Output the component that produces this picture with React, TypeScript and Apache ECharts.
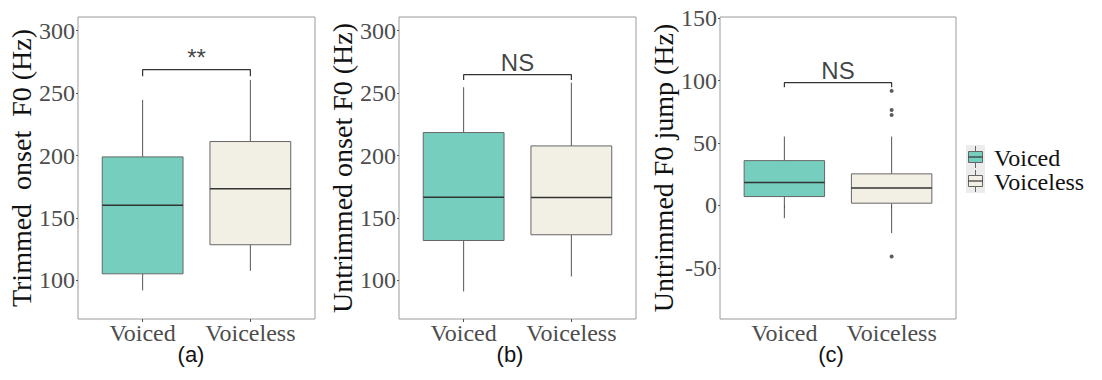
import React, { useEffect, useRef } from 'react';
import * as echarts from 'echarts';

// ---------- data ----------
const categories = ['Voiced', 'Voiceless'];
// each box: [lower whisker, Q1, median, Q3, upper whisker]
const trimmedOnsetVoiced = [91.9, 105.2, 160.2, 198.9, 244.6];
const trimmedOnsetVoiceless = [107.6, 128.5, 173.3, 211.2, 260.6];
const untrimmedOnsetVoiced = [91.1, 131.9, 166.6, 218.4, 254.7];
const untrimmedOnsetVoiceless = [103.1, 136.5, 166.3, 207.7, 258.4];
const jumpVoiced = [-10.2, 7.1, 18.3, 35.9, 55.2];
const jumpVoiceless = [-22.2, 1.8, 13.9, 25.3, 55.2];
const jumpVoicelessOutliers = [91.8, 76.5, 72.5, -40.9];

const onsetTicks = [100, 150, 200, 250, 300];
const jumpTicks = [-50, 0, 50, 100, 150];
const onsetRange = [69, 311];
const jumpRange = [-91, 151];

// significance brackets: [top, tick end]
const bracketA = [268.8, 263.5];
const bracketB = [264.8, 260.6];
const bracketC = [98.4, 94.7];
const significance = ['**', 'NS', 'NS'];

const yTitles = ['Trimmed  onset  F0 (Hz)', 'Untrimmed onset F0 (Hz)', 'Untrimmed F0 jump (Hz)'];
const panelLabels = ['(a)', '(b)', '(c)'];

// ---------- style ----------
const FILLS = ['#76cfbe', '#f2f0e4'];
const SERIF = '"Liberation Serif", "Times New Roman", serif';
const SANS = '"Liberation Sans", Arial, sans-serif';
const BOX_WIDTH = 0.75;
const GRIDS = [
  { left: 78, width: 237 },
  { left: 399, width: 237 },
  { left: 720, width: 236 },
];
const PANEL_LABEL_X = [191, 510, 831];

const panels = [
  { boxes: [trimmedOnsetVoiced, trimmedOnsetVoiceless], outliers: [] as number[], ticks: onsetTicks, range: onsetRange, bracket: bracketA },
  { boxes: [untrimmedOnsetVoiced, untrimmedOnsetVoiceless], outliers: [] as number[], ticks: onsetTicks, range: onsetRange, bracket: bracketB },
  { boxes: [jumpVoiced, jumpVoiceless], outliers: jumpVoicelessOutliers, ticks: jumpTicks, range: jumpRange, bracket: bracketC },
];

function renderBox(params: any, api: any) {
  const x = api.value(0);
  const lo = api.coord([x, api.value(1)]);
  const q1 = api.coord([x, api.value(2)]);
  const med = api.coord([x, api.value(3)]);
  const q3 = api.coord([x, api.value(4)]);
  const hi = api.coord([x, api.value(5)]);
  const w = api.size([BOX_WIDTH, 0])[0];
  const fill = FILLS[Math.round(x) - 1];
  const whisker = { stroke: '#555', lineWidth: 1 };
  return {
    type: 'group',
    children: [
      { type: 'line', shape: { x1: hi[0], y1: hi[1], x2: q3[0], y2: q3[1] }, style: whisker },
      { type: 'line', shape: { x1: q1[0], y1: q1[1], x2: lo[0], y2: lo[1] }, style: whisker },
      {
        type: 'rect',
        shape: { x: q3[0] - w / 2, y: q3[1], width: w, height: q1[1] - q3[1] },
        style: { fill, stroke: '#666', lineWidth: 1 },
      },
      {
        type: 'line',
        shape: { x1: med[0] - w / 2, y1: med[1], x2: med[0] + w / 2, y2: med[1] },
        style: { stroke: '#333', lineWidth: 1.5 },
      },
    ],
  };
}

function buildOption() {
  const grid = GRIDS.map((g) => ({
    left: g.left,
    width: g.width,
    top: 17,
    height: 302,
    show: true,
    borderColor: '#9a9a9a',
    borderWidth: 1,
    backgroundColor: 'transparent',
  }));

  const xAxis = panels.map((_, i) => ({
    type: 'value',
    gridIndex: i,
    min: 0.4,
    max: 2.6,
    axisLine: { show: false },
    splitLine: { show: false },
    axisTick: { show: true, customValues: [1, 2], length: 3, lineStyle: { color: '#555' } },
    axisLabel: {
      customValues: [1, 2],
      formatter: (v: number) => categories[Math.round(v) - 1] ?? '',
      fontFamily: SERIF,
      fontSize: 24,
      color: '#4d4d4d',
      margin: 2,
    },
  }));

  const yAxis = panels.map((p, i) => ({
    type: 'value',
    gridIndex: i,
    min: p.range[0],
    max: p.range[1],
    axisLine: { show: false },
    splitLine: { show: false },
    axisTick: { show: true, customValues: p.ticks, length: 2, lineStyle: { color: '#555' } },
    axisLabel: {
      customValues: p.ticks,
      fontFamily: SERIF,
      fontSize: 24,
      color: '#4d4d4d',
      margin: 3,
    },
    name: yTitles[i],
    nameLocation: 'middle',
    nameGap: 42,
    nameTextStyle: { fontFamily: SERIF, fontSize: 28, color: '#111' },
  }));

  const series: any[] = [];
  panels.forEach((p, i) => {
    series.push({
      type: 'custom',
      xAxisIndex: i,
      yAxisIndex: i,
      renderItem: renderBox,
      encode: { x: 0, y: [1, 2, 3, 4, 5] },
      data: p.boxes.map((b, k) => [k + 1, ...b]),
      z: 2,
    });
    if (p.outliers.length) {
      series.push({
        type: 'scatter',
        xAxisIndex: i,
        yAxisIndex: i,
        symbolSize: 4,
        itemStyle: { color: '#333' },
        data: p.outliers.map((v) => [2, v]),
        z: 3,
      });
    }
    const [top, end] = p.bracket;
    series.push({
      type: 'line',
      xAxisIndex: i,
      yAxisIndex: i,
      symbol: 'none',
      lineStyle: { color: '#333', width: 1.2 },
      data: [[1, end], [1, top], [2, top], [2, end]],
      z: 3,
    });
    series.push({
      type: 'scatter',
      xAxisIndex: i,
      yAxisIndex: i,
      symbolSize: 0,
      data: [[1.5, top]],
      label: {
        show: true,
        position: 'top',
        distance: 0,
        formatter: significance[i],
        fontFamily: SANS,
        fontSize: 24,
        color: '#111',
      },
      z: 4,
    });
  });

  const legendItems = categories.map((name, i) => {
    const top = 145 + i * 24;
    return {
      type: 'group',
      children: [
        { type: 'rect', shape: { x: 966, y: top, width: 19, height: 24 }, style: { fill: '#ececec' } },
        { type: 'line', shape: { x1: 975.5, y1: top + 1, x2: 975.5, y2: top + 23 }, style: { stroke: '#666', lineWidth: 1 } },
        { type: 'rect', shape: { x: 968.5, y: top + 6.5, width: 14, height: 11 }, style: { fill: FILLS[i], stroke: '#666', lineWidth: 1 } },
        { type: 'line', shape: { x1: 968.5, y1: top + 12, x2: 982.5, y2: top + 12 }, style: { stroke: '#333', lineWidth: 1.2 } },
        {
          type: 'text',
          x: 994,
          y: top + 12.5,
          style: {
            text: name,
            font: `24px ${SERIF}`,
            lineHeight: 22,
            fill: '#111',
            textVerticalAlign: 'middle',
            verticalAlign: 'middle',
          },
        },
      ],
    };
  });

  const labels = panelLabels.map((t, i) => ({
    type: 'text',
    x: PANEL_LABEL_X[i],
    y: 354,
    style: { text: t, font: `22px ${SANS}`, fill: '#111', align: 'center', textAlign: 'center', verticalAlign: 'middle', textVerticalAlign: 'middle' },
  }));

  return {
    animation: false,
    backgroundColor: '#ffffff',
    grid,
    xAxis,
    yAxis,
    series,
    graphic: [...legendItems, ...labels],
  };
}

export default function App() {
  const ref = useRef<HTMLDivElement>(null);
  useEffect(() => {
    if (!ref.current) return;
    const chart = echarts.init(ref.current, undefined, { renderer: 'svg' });
    chart.setOption(buildOption() as any);
    return () => chart.dispose();
  }, []);
  return (
    <div
      ref={ref}
      style={{ position: 'absolute', left: 0, top: 0, width: 1102, height: 380, background: '#fff' }}
    />
  );
}
